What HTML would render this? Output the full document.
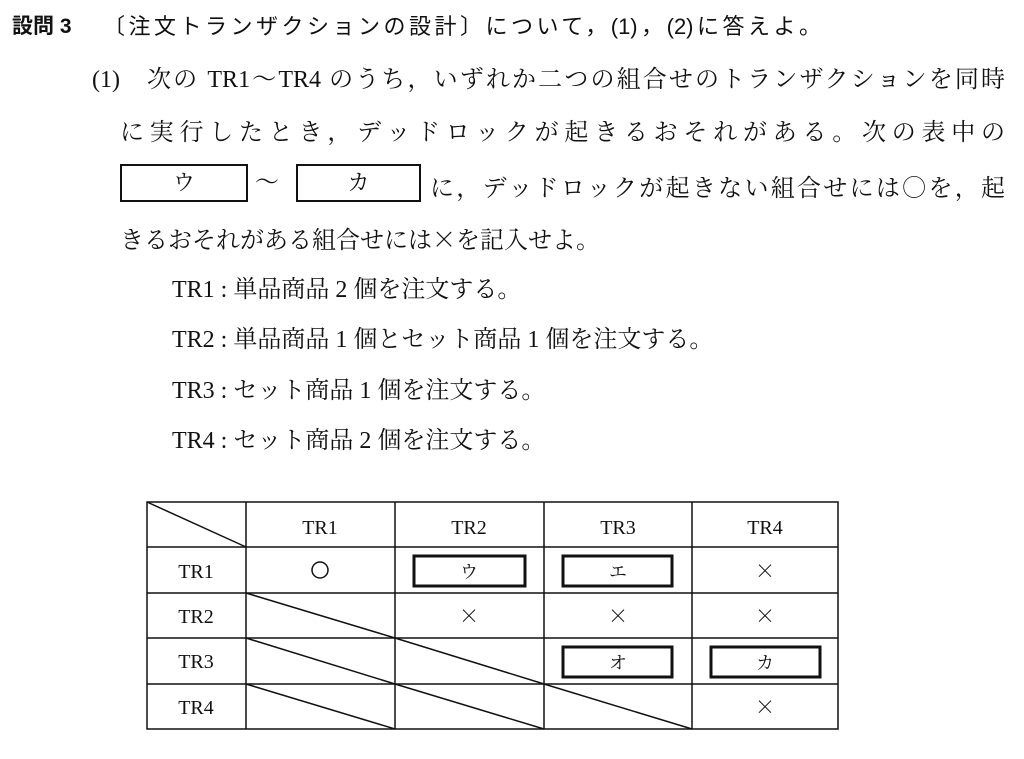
<!DOCTYPE html>
<html><head><meta charset="utf-8"><style>
body{margin:0;background:#fff;width:1024px;height:759px;position:relative;overflow:hidden;font-family:"Liberation Serif","Noto Serif CJK JP","Noto Sans CJK JP",serif;color:#111}
.t{position:absolute;white-space:nowrap;font-size:24px;line-height:28px}
.j{position:absolute;font-size:24px;line-height:28px;text-align:justify;text-align-last:justify;white-space:nowrap}
.box{position:absolute;border:2.5px solid #111;box-sizing:border-box;text-align:center;font-size:22px}
.c{font-family:"Noto Sans CJK JP",sans-serif;font-weight:300}
</style></head><body>
<div class="t" style="left:12px;top:13px;font-family:'Liberation Sans','Noto Sans CJK JP',sans-serif;font-weight:bold;font-size:21px">設問 3</div>
<div class="j" style="left:103px;top:13px;width:718px;font-family:'Liberation Sans','Noto Sans CJK JP',sans-serif;font-size:22px">〔注文トランザクションの設計〕について，(1)，(2)に答えよ。</div>
<div class="t" style="left:92px;top:66px">(1)</div>
<div class="j" style="left:147px;top:66px;width:858px">次の TR1〜TR4 のうち，いずれか二つの組合せのトランザクションを同時</div>
<div class="j" style="left:120px;top:119px;width:885px">に実行したとき，デッドロックが起きるおそれがある。次の表中の</div>
<div class="box" style="left:120px;top:164px;width:128px;height:38px;line-height:33px">ウ</div>
<div class="t" style="left:255px;top:169px">〜</div>
<div class="box" style="left:296px;top:164px;width:125px;height:38px;line-height:33px">カ</div>
<div class="j" style="left:430px;top:172px;width:575px">に，デッドロックが起きない組合せには<span class="c">○</span>を，起</div>
<div class="t" style="left:120px;top:224px">きるおそれがある組合せには<span class="c">×</span>を記入せよ。</div>
<div class="t" style="left:172px;top:276px">TR1 : 単品商品 2 個を注文する。</div>
<div class="t" style="left:172px;top:326px">TR2 : 単品商品 1 個とセット商品 1 個を注文する。</div>
<div class="t" style="left:172px;top:377px">TR3 : セット商品 1 個を注文する。</div>
<div class="t" style="left:172px;top:427px">TR4 : セット商品 2 個を注文する。</div>
<svg style="position:absolute;left:0;top:0" width="1024" height="759">
<g stroke="#111" stroke-width="1.5" fill="none">
<rect x="147" y="502" width="691" height="227"/>
<line x1="246" y1="502" x2="246" y2="729"/><line x1="395" y1="502" x2="395" y2="729"/><line x1="544" y1="502" x2="544" y2="729"/><line x1="692" y1="502" x2="692" y2="729"/>
<line x1="147" y1="547" x2="838" y2="547"/><line x1="147" y1="593" x2="838" y2="593"/><line x1="147" y1="638" x2="838" y2="638"/><line x1="147" y1="684" x2="838" y2="684"/>
<line x1="147" y1="502" x2="246" y2="547"/>
<line x1="246" y1="593" x2="395" y2="638"/>
<line x1="246" y1="638" x2="395" y2="684"/><line x1="395" y1="638" x2="544" y2="684"/>
<line x1="246" y1="684" x2="395" y2="729"/><line x1="395" y1="684" x2="544" y2="729"/><line x1="544" y1="684" x2="692" y2="729"/>
<circle cx="320" cy="570" r="8"/>
</g>
<g stroke="#111" stroke-width="3" fill="none">
<rect x="414" y="556" width="111" height="30"/><rect x="563" y="556" width="109" height="30"/>
<rect x="563" y="647" width="109" height="30"/><rect x="711" y="647" width="109" height="30"/>
</g>
<g font-family="Liberation Serif,Noto Serif CJK JP,serif" font-size="20" text-anchor="middle" fill="#111">
<text x="320" y="534">TR1</text><text x="469" y="534">TR2</text><text x="618" y="534">TR3</text><text x="765" y="534">TR4</text>
<text x="196" y="578">TR1</text><text x="196" y="623">TR2</text><text x="196" y="668">TR3</text><text x="196" y="714">TR4</text>
<text x="469" y="578" font-size="18">ウ</text><text x="618" y="578" font-size="18">エ</text>
<text x="618" y="669" font-size="18">オ</text><text x="765" y="669" font-size="18">カ</text>
</g>
<g font-family="Noto Sans CJK JP,sans-serif" font-weight="300" font-size="20" text-anchor="middle" fill="#111">
<text x="765" y="578">×</text><text x="469" y="623">×</text><text x="618" y="623">×</text><text x="765" y="623">×</text><text x="765" y="714">×</text>
</g>
</svg>
</body></html>
